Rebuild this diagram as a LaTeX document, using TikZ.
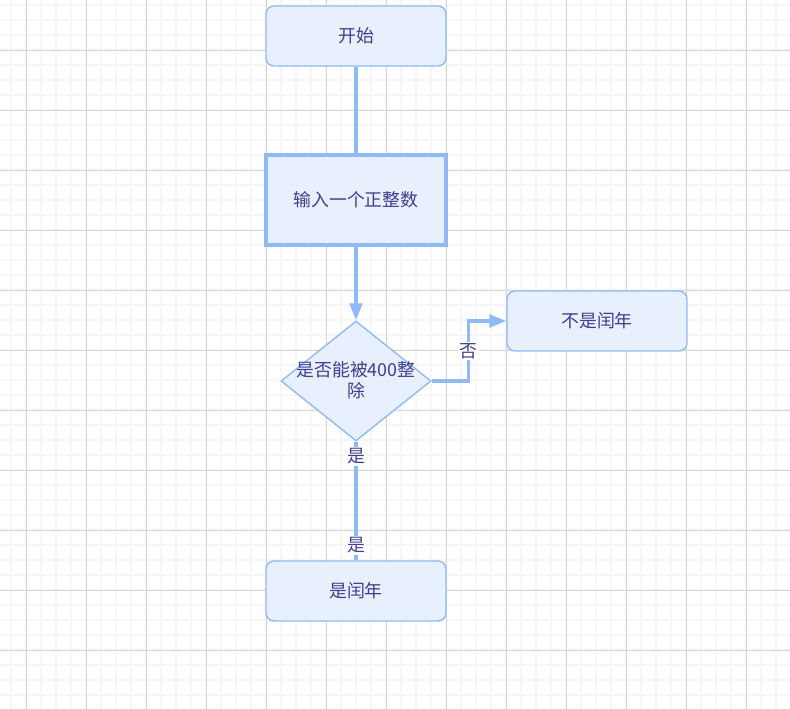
\documentclass[tikz,border=0pt]{standalone}
\usepackage{fontspec}
\setmainfont{Noto Sans CJK SC}
\usetikzlibrary{positioning,shapes.geometric,arrows.meta}
\definecolor{edge}{RGB}{144,186,245}
\definecolor{boxfill}{RGB}{232,240,254}
\definecolor{ink}{RGB}{62,62,140}
\definecolor{gridminor}{RGB}{246,246,246}
\definecolor{gridmajor}{RGB}{214,214,214}
\tikzset{
	chart/.style={text=ink, font=\fontsize{12.7}{15}\selectfont},
	terminal/.style={chart, draw=edge, fill=boxfill, line width=1pt, rounded corners=0.2cm, minimum width=4.5cm, minimum height=1.5cm},
	process/.style={chart, draw=edge, fill=boxfill, line width=2.4pt, minimum width=4.5cm, minimum height=2.25cm},
	decision/.style={draw=edge, fill=boxfill, line width=1pt, diamond, inner sep=0pt, minimum width=3.75cm, minimum height=3cm},
	link/.style={draw=edge, line width=2.3pt},
	flow/.style={link, -{Triangle[length=12pt, width=9pt]}},
	answer/.style={chart, fill=white, inner sep=1pt}
}

\begin{document}
\begin{tikzpicture}
		[x=0.025cm, y=-0.025cm]
		\useasboundingbox (0,0) rectangle (790,709);
		\fill[white] (0,0) rectangle (790,709);
		\foreach \gx in {11,26,...,790}
			\draw[gridminor, line width=0.9pt] (\gx,0) -- (\gx,709);
		\foreach \gy in {5,20,...,709}
			\draw[gridminor, line width=0.9pt] (0,\gy) -- (790,\gy);
		\foreach \gx in {26,86,...,790}
			\draw[gridmajor, line width=0.7pt] (\gx,0) -- (\gx,709);
		\foreach \gy in {50,110,...,709}
			\draw[gridmajor, line width=0.7pt] (0,\gy) -- (790,\gy);

		\node[terminal] (begin) at (356,36) {开始};
		\node[process] (input) at (356,200) {输入一个正整数};
		\node[decision] (check) at (356,381) {};
		\node[chart, align=center] (checktext) at (356,380) {是否能被400整\\除};
		\node[terminal] (noleap) at (597,321) {不是闰年};
		\node[terminal] (leap) at (356,591) {是闰年};

		\draw[link] (begin) -- (input);
		\draw[flow] (input) -- (check);
		\draw[flow] (check.east) -- ++(37,0) |- node[answer, pos=0.25] (no) {否} (noleap.west);
		\draw[link] (check.south) -- node[answer, pos=0.125] (yes1) {是} node[answer, pos=0.875] (yes2) {是} (leap.north);
	\end{tikzpicture}
\end{document}
